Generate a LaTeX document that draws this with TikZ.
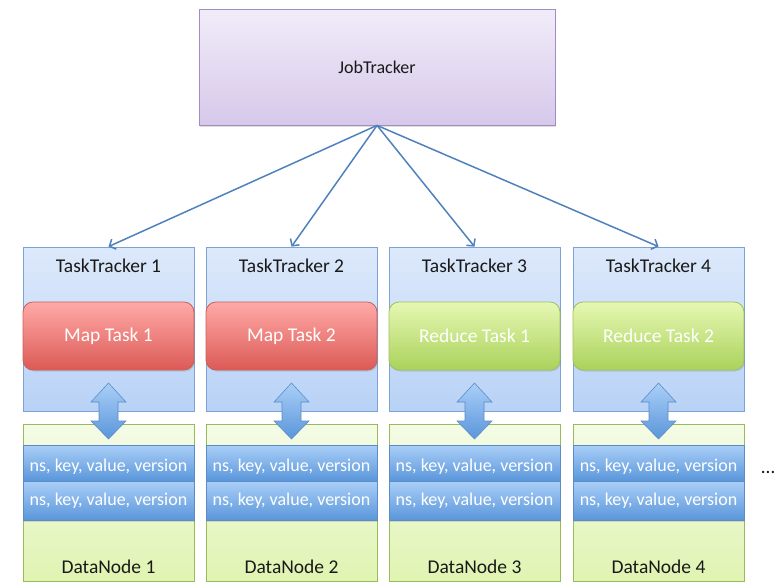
\documentclass[tikz,border=0pt]{standalone}
\usepackage{fontspec}
\setmainfont{Carlito}
\usetikzlibrary{arrows.meta,shadows}
\definecolor{lineblue}{HTML}{4F81BD}
\definecolor{ttTop}{HTML}{DDE9FB}
\definecolor{ttBot}{HTML}{B8D2F6}
\definecolor{ttLine}{HTML}{7DA3D6}
\definecolor{mapTop}{HTML}{FFAAA8}
\definecolor{mapBot}{HTML}{DC5A55}
\definecolor{mapLine}{HTML}{C9605C}
\definecolor{redTop}{HTML}{E6F8B4}
\definecolor{redBot}{HTML}{AAD25A}
\definecolor{redLine}{HTML}{9FC15F}
\definecolor{dnTop}{HTML}{F4FBE6}
\definecolor{dnBot}{HTML}{E0F4B2}
\definecolor{dnLine}{HTML}{9BBB59}
\definecolor{recTop}{HTML}{AACFF8}
\definecolor{recBot}{HTML}{5A96DA}
\definecolor{recLine}{HTML}{5C8CC8}
\definecolor{jtTop}{HTML}{F1ECF9}
\definecolor{jtBot}{HTML}{D7C8EA}
\definecolor{jtLine}{HTML}{A28CC3}
\tikzset{
  txt/.style={font=\fontsize{19.5}{22}\selectfont},
  smalltxt/.style={font=\fontsize{18}{21}\selectfont},
  shad/.style={drop shadow={opacity=0.25,shadow xshift=1.2pt,shadow yshift=-1.5pt}},
  jtbox/.style={draw=jtLine,line width=0.8pt,top color=jtTop,bottom color=jtBot,minimum width=356pt,minimum height=116pt,inner sep=0pt,shad,smalltxt,text=black!90},
  ttbox/.style={draw=ttLine,line width=0.8pt,top color=ttTop,bottom color=ttBot,minimum width=171pt,minimum height=164pt,inner sep=0pt},
  maptask/.style={draw=mapLine,line width=0.8pt,top color=mapTop,bottom color=mapBot,rounded corners=10pt,minimum width=171pt,minimum height=68pt,inner sep=0pt,shad,txt,text=white},
  redtask/.style={draw=redLine,line width=0.8pt,top color=redTop,bottom color=redBot,rounded corners=10pt,minimum width=171pt,minimum height=68pt,inner sep=0pt,shad,txt,text=white},
  dnbox/.style={draw=dnLine,line width=0.8pt,top color=dnTop,bottom color=dnBot,minimum width=171pt,minimum height=157pt,inner sep=0pt},
  recbox/.style={draw=recLine,line width=0.6pt,top color=recTop,bottom color=recBot,minimum width=171pt,inner sep=0pt,shad},
  lbl/.style={txt,text=black!90,inner sep=0pt},
  reclbl/.style={smalltxt,text=white,inner sep=0pt},
  conn/.style={draw=lineblue,line width=1.5pt,-{Straight Barb[length=5pt,width=11pt]}},
  dbl/.style={draw=recLine,line width=0.6pt,top color=recTop,bottom color=recBot},
}
\begin{document}
\begin{tikzpicture}[x=1pt,y=-1pt]
\useasboundingbox (0,0) rectangle (778,582);
\node[jtbox] (jt) at (377,67) {JobTracker};
\foreach \i/\cx in {1/108.5,2/291.5,3/474.5,4/658.5}{
  \node[ttbox] (tt\i) at (\cx,329) {};
  \node[lbl] (ttl\i) at (\cx,266) {TaskTracker \i};
  \node[dnbox] (dn\i) at (\cx,502.5) {};
  \node[recbox,minimum height=36pt] (ra\i) at (\cx,463) {};
  \node[recbox,minimum height=39pt] (rb\i) at (\cx,500.5) {};
  \node[reclbl] (rat\i) at (\cx,467) {ns, key, value, version};
  \node[reclbl] (rbt\i) at (\cx,501) {ns, key, value, version};
  \node[lbl] (dnl\i) at (\cx,567) {DataNode \i};
  \path[dbl] (\cx,383) -- (\cx+17.5,402) -- (\cx+9.5,402) -- (\cx+9.5,421) -- (\cx+17.5,421)
     -- (\cx,439) -- (\cx-17.5,421) -- (\cx-9.5,421) -- (\cx-9.5,402) -- (\cx-17.5,402) -- cycle;
}
\node[maptask] (mt1) at (108.5,336) {Map Task 1};
\node[maptask] (mt2) at (291.5,336) {Map Task 2};
\node[redtask] (rt1) at (474.5,336) {Reduce Task 1};
\node[redtask] (rt2) at (658.5,336) {Reduce Task 2};
\foreach \i in {1,2,3,4}{
  \draw[conn] (jt.south) -- (tt\i.north);
}
\node[lbl] (dots) at (768,472) {\dots};
\end{tikzpicture}
\end{document}
